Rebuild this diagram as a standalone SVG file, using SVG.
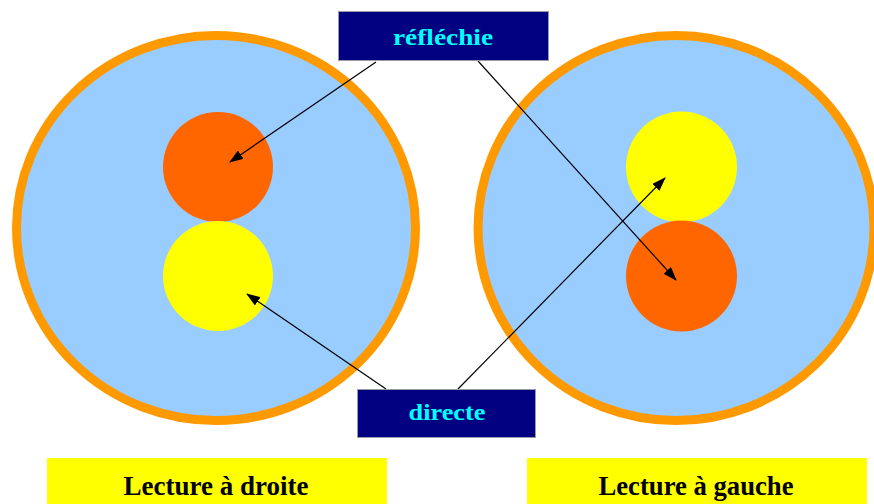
<svg xmlns="http://www.w3.org/2000/svg" width="874" height="504" viewBox="0 0 874 504">
<style>
.big{fill:#99CCFF;stroke:#FF9900;stroke-width:9}
.org{fill:#FF6600}
.yel{fill:#FFFF00}
.lbl{fill:#000080;stroke:#9999AA;stroke-width:1}
.lt{font-family:"Liberation Serif",serif;font-weight:bold;font-size:24px;fill:#00FFFF;text-anchor:middle}
.cap{fill:#FFFF00}
.ct{font-family:"Liberation Serif",serif;font-weight:bold;font-size:27px;fill:#000000;text-anchor:middle}
.con line{stroke:#000;stroke-width:1.2;marker-end:url(#ah)}
</style>
<defs>
<marker id="ah" markerWidth="14" markerHeight="10" refX="13" refY="5" orient="auto" markerUnits="userSpaceOnUse">
<path d="M0,0 L14,5 L0,10 Z" fill="#000"/>
</marker>
</defs>
<g id="disc-left">
<ellipse class="big" cx="216" cy="228" rx="199.5" ry="192.5"/>
<circle class="org" cx="218" cy="167" r="55"/>
<circle class="yel" cx="218" cy="276" r="55"/>
</g>
<g id="disc-right">
<ellipse class="big" cx="676" cy="228" rx="198" ry="192.5"/>
<circle class="yel" cx="681.5" cy="167" r="55.5"/>
<circle class="org" cx="681.5" cy="276" r="55.5"/>
</g>
<g class="con" id="connectors">
<line x1="376" y1="62" x2="230" y2="162"/>
<line x1="386" y1="389" x2="247" y2="294"/>
<line x1="478" y1="61" x2="676" y2="280"/>
<line x1="458" y1="389" x2="665" y2="178"/>
</g>
<g id="reflechie">
<rect class="lbl" x="338.5" y="11.5" width="210" height="49"/>
<text class="lt" x="443" y="45" textLength="100" lengthAdjust="spacingAndGlyphs">réfléchie</text>
</g>
<g id="directe">
<rect class="lbl" x="357.5" y="389.5" width="178" height="48"/>
<text class="lt" x="447" y="420" textLength="77" lengthAdjust="spacingAndGlyphs">directe</text>
</g>
<g id="cap-left">
<rect class="cap" x="47" y="458" width="340" height="46"/>
<text class="ct" x="216" y="495" textLength="185" lengthAdjust="spacingAndGlyphs">Lecture à droite</text>
</g>
<g id="cap-right">
<rect class="cap" x="527" y="458" width="340" height="46"/>
<text class="ct" x="696" y="495" textLength="195" lengthAdjust="spacingAndGlyphs">Lecture à gauche</text>
</g>
</svg>
